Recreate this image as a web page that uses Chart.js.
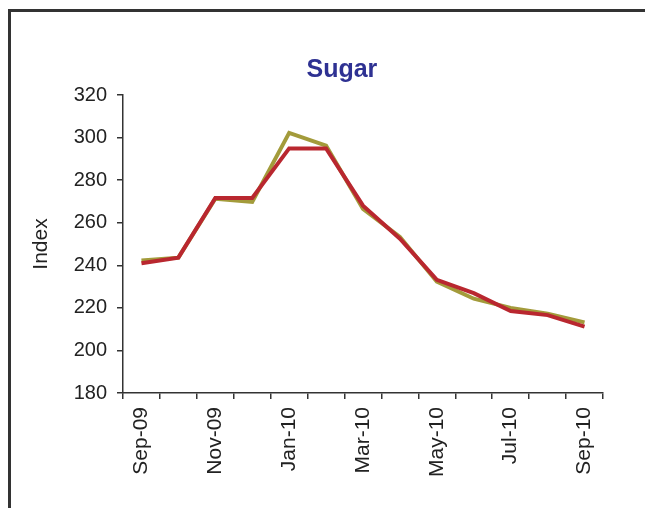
<!DOCTYPE html>
<html>
<head>
<meta charset="utf-8">
<script src="https://cdn.jsdelivr.net/npm/chart.js@4/dist/chart.umd.min.js"></script>
<style>
  html, body { margin: 0; padding: 0; background: #fff; }
  #wrap { width: 645px; height: 508px; position: relative; }
</style>
</head>
<body>
<div id="wrap"><canvas id="c" width="645" height="508"></canvas></div>
<script>
const months = ["Sep-09","Oct-09","Nov-09","Dec-09","Jan-10","Feb-10","Mar-10","Apr-10","May-10","Jun-10","Jul-10","Aug-10","Sep-10"];
const seriesOlive = [242.2, 243.6, 271.3, 269.8, 302.2, 296.2, 266.5, 253.3, 232.3, 224.3, 220.0, 217.2, 213.2];
const seriesRed   = [241.0, 243.6, 271.6, 271.6, 294.9, 294.9, 268.0, 252.5, 233.2, 226.9, 218.5, 216.6, 211.2];
const yTicksMin = 180, yTicksMax = 320, yStep = 20;
const chartTitle = 'Sugar';

const framePlugin = {
  id: 'frame',
  beforeDraw(chart) {
    const ctx = chart.ctx;
    ctx.save();
    ctx.fillStyle = '#fff';
    ctx.fillRect(0, 0, chart.width, chart.height);
    ctx.strokeStyle = '#333';
    ctx.lineWidth = 3;
    ctx.beginPath();
    ctx.moveTo(9.5, 508);
    ctx.lineTo(9.5, 10.5);
    ctx.lineTo(645, 10.5);
    ctx.stroke();
    ctx.restore();
  },
  afterDraw(chart) {
    const ctx = chart.ctx;
    ctx.save();
    ctx.fillStyle = '#2e3192';
    ctx.font = 'bold 25px "Liberation Sans", Arial, sans-serif';
    ctx.textAlign = 'center';
    ctx.textBaseline = 'middle';
    const ca = chart.chartArea;
    ctx.fillText(chartTitle, ca.left + (ca.right - ca.left) * 0.456, ca.top - 25);
    ctx.restore();
  }
};

new Chart(document.getElementById('c'), {
  type: 'line',
  data: {
    labels: months,
    datasets: [
      { label: 'Series 1', data: seriesOlive, borderColor: '#a39b3b', backgroundColor: '#a39b3b', borderWidth: 4, pointRadius: 0, tension: 0, order: 1 },
      { label: 'Series 2', data: seriesRed, borderColor: '#b9272f', backgroundColor: '#b9272f', borderWidth: 4, pointRadius: 0, tension: 0, order: 0 }
    ]
  },
  options: {
    responsive: false,
    animation: false,
    layout: { padding: { left: 25, right: 42, top: 95, bottom: 0 } },
    plugins: {
      legend: { display: false },
      tooltip: { enabled: false },
      title: { display: false }
    },
    scales: {
      x: {
        offset: true,
        grid: { display: true, offset: true, drawOnChartArea: false, drawTicks: true, tickLength: 6, color: '#333', lineWidth: 1.5 },
        border: { display: true, color: '#333', width: 1.5 },
        ticks: {
          autoSkip: false, maxRotation: 90, minRotation: 90, padding: 8,
          color: '#222',
          font: { family: 'Liberation Sans, Arial, sans-serif', size: 21 },
          callback: function(v, i) { return i % 2 === 0 ? this.getLabelForValue(v) : ''; }
        },
        afterFit(scale) { scale.height = 115; }
      },
      y: {
        min: yTicksMin, max: yTicksMax,
        grid: { display: true, drawOnChartArea: false, drawTicks: true, tickLength: 6, color: '#333', lineWidth: 1.5 },
        border: { display: true, color: '#333', width: 1.5 },
        ticks: {
          stepSize: yStep, padding: 10, color: '#222',
          font: { family: 'Liberation Sans, Arial, sans-serif', size: 20 }
        },
        title: {
          display: true, text: 'Index', color: '#222',
          font: { family: 'Liberation Sans, Arial, sans-serif', size: 21 },
          padding: { top: 4, bottom: 4 }
        },
        afterFit(scale) { scale.width = 98; }
      }
    }
  },
  plugins: [framePlugin]
});
</script>
</body>
</html>
